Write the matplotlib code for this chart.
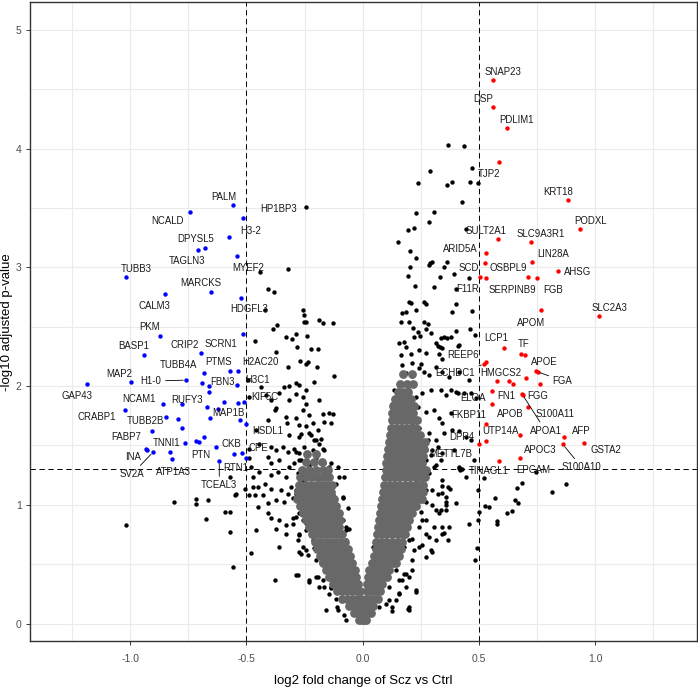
import numpy as np
import matplotlib
matplotlib.use("Agg")
import matplotlib.pyplot as plt

plt.rcParams['font.family'] = ['Liberation Sans', 'DejaVu Sans']

# ---------------------------------------------------------------
# data: log2 fold change (fc) and -log10 adjusted p-value (p)
# ---------------------------------------------------------------

# down-regulated, labelled (blue)
blue_labeled = [
    ("PALM", -0.558, 3.524), ("HP1BP3", -0.514, 3.415), ("NCALD", -0.741, 3.463),
    ("H3-2", -0.577, 3.257), ("DPYSL5", -0.677, 3.162), ("TAGLN3", -0.710, 3.147),
    ("MYEF2", -0.541, 3.094), ("TUBB3", -1.018, 2.920), ("MARCKS", -0.654, 2.794),
    ("CALM3", -0.849, 2.772), ("HDGFL3", -0.522, 2.741), ("PKM", -0.870, 2.418),
    ("SCRN1", -0.514, 2.435), ("BASP1", -0.942, 2.263), ("CRIP2", -0.694, 2.275),
    ("TUBB4A", -0.681, 2.111), ("PTMS", -0.570, 2.126), ("MAP2", -0.997, 2.030),
    ("GAP43", -1.185, 2.019), ("H1-0", -0.760, 2.050), ("FBN3", -0.661, 1.999),
    ("NCAM1", -0.857, 1.845), ("RUFY3", -0.779, 1.853), ("CRABP1", -1.022, 1.797),
    ("MAP1B", -0.621, 1.805), ("TUBB2B", -0.906, 1.623), ("FABP7", -0.930, 1.470),
    ("INA", -0.927, 1.460), ("SV2A", -0.902, 1.443), ("TNNI1", -0.829, 1.446),
    ("ATP1A3", -0.821, 1.387), ("PTN", -0.633, 1.488), ("CKB", -0.552, 1.426),
    ("TCEAL3", -0.617, 1.365), ("RTN1", -0.504, 1.398),
]
blue_other = [
    (-0.535, 2.126), (-0.690, 2.022), (-0.541, 2.010), (-0.661, 1.946), (-0.598, 1.867),
    (-0.535, 1.858), (-0.512, 1.867), (-0.670, 1.820), (-0.658, 1.732), (-0.844, 1.741),
    (-0.794, 1.719), (-0.779, 1.645), (-0.530, 1.713), (-0.504, 1.680), (-0.764, 1.521),
    (-0.718, 1.538), (-0.706, 1.530), (-0.684, 1.567), (-0.518, 1.437),
]

# up-regulated, labelled (red)
red_labeled = [
    ("SNAP23", 0.559, 4.577), ("DSP", 0.559, 4.350), ("PDLIM1", 0.619, 4.170),
    ("KRT18", 0.882, 3.564), ("PODXL", 0.935, 3.324), ("SULT2A1", 0.582, 3.235),
    ("SLC9A3R1", 0.724, 3.210), ("ARID5A", 0.529, 3.117), ("LIN28A", 0.728, 3.046),
    ("OSBPL9", 0.526, 3.039), ("AHSG", 0.839, 2.968), ("SCD", 0.503, 2.915),
    ("SERPINB9", 0.531, 2.911), ("FGB", 0.751, 2.912), ("SLC2A3", 1.015, 2.589),
    ("APOM", 0.768, 2.639), ("LCP1", 0.608, 2.322), ("TF", 0.682, 2.269),
    ("REEP6", 0.529, 2.204), ("ECHDC1", 0.522, 2.184), ("APOE", 0.746, 2.128),
    ("FGA", 0.752, 2.120), ("HMGCS2", 0.579, 2.039), ("FN1", 0.558, 1.960),
    ("FGG", 0.684, 1.932), ("APOA1", 0.688, 1.925), ("S100A11", 0.712, 1.820),
    ("APOB", 0.558, 1.845), ("UTP14A", 0.532, 1.679), ("AFP", 0.867, 1.570),
    ("GSTA2", 0.951, 1.522), ("S100A10", 0.861, 1.508), ("APOC3", 0.676, 1.395),
    ("DPP4", 0.502, 1.513),
]
red_other = [
    (0.586, 3.886), (0.711, 2.920), (0.697, 2.260), (0.703, 2.064), (0.762, 2.019),
    (0.630, 2.041), (0.646, 2.019), (0.676, 1.586), (0.532, 1.538), (0.586, 1.370),
]

# labelled proteins that miss one of the cut-offs (black)
black_labeled = [
    ("TJP2", 0.496, 3.712), ("F11R", 0.400, 2.814), ("ELOA", 0.400, 1.951),
    ("FKBP11", 0.379, 1.774), ("METTL7B", 0.479, 1.376), ("TINAGL1", 0.522, 1.222),
    ("EPCAM", 0.744, 1.272), ("H2AC20", -0.465, 2.378), ("H3C1", -0.495, 2.055),
    ("KIF5C", -0.487, 1.904), ("HSDL1", -0.458, 1.629), ("CPE", -0.487, 1.474),
]

black_upper = [
    (-0.246, 3.510), (-0.322, 2.985), (-0.441, 2.962), (-0.409, 2.819), (-0.381, 2.794),
    (-0.422, 2.639), (-0.258, 2.637), (-0.254, 2.600), (-0.254, 2.541), (-0.242, 2.541),
    (-0.186, 2.553), (-0.172, 2.532), (-0.126, 2.532), (-0.367, 2.513), (-0.385, 2.479),
    (-0.332, 2.409), (-0.306, 2.393), (-0.286, 2.435), (-0.238, 2.418),
    (-0.284, 2.330), (-0.221, 2.313), (-0.194, 2.308), (-0.372, 2.288), (-0.322, 2.162),
    (-0.268, 2.213), (-0.246, 2.185), (-0.236, 2.205), (-0.198, 2.162), (-0.122, 2.083),
    (0.367, 4.027), (0.435, 4.019), (0.472, 3.833), (0.290, 3.813), (0.236, 3.712),
    (0.362, 3.693), (0.382, 3.720), (0.462, 3.720), (0.426, 3.547), (0.229, 3.454),
    (0.307, 3.463), (0.286, 3.378), (0.193, 3.313), (0.221, 3.328), (0.443, 3.322),
    (0.153, 3.215), (0.203, 3.134), (0.231, 3.075), (0.290, 3.033), (0.300, 3.041),
    (0.286, 3.019), (0.362, 3.046), (0.350, 3.004), (0.203, 2.999), (0.193, 2.928),
    (0.332, 2.920), (0.393, 2.943), (0.455, 2.906), (0.223, 2.842), (0.307, 2.836),
    (0.197, 2.709), (0.207, 2.701), (0.264, 2.709), (0.272, 2.690), (0.403, 2.690),
    (0.167, 2.612), (0.186, 2.620), (0.231, 2.639), (0.386, 2.625), (0.472, 2.631),
    (0.166, 2.536), (0.200, 2.541), (0.218, 2.485), (0.236, 2.457), (0.264, 2.536),
    (0.282, 2.522), (0.272, 2.477), (0.293, 2.448), (0.350, 2.415), (0.364, 2.401),
    (0.403, 2.465), (0.461, 2.477), (0.483, 2.429), (0.157, 2.364), (0.176, 2.372),
    (0.186, 2.330), (0.221, 2.409), (0.247, 2.420), (0.317, 2.364), (0.333, 2.330),
    (0.412, 2.345), (0.336, 2.401), (0.379, 2.415), (0.343, 2.317),
]

black_left = [
    (-0.337, 1.988), (-0.315, 2.002), (-0.287, 2.027), (-0.272, 2.008), (-0.246, 1.966),
    (-0.208, 2.036), (-0.437, 1.994), (-0.415, 1.924), (-0.394, 1.882), (-0.379, 1.797),
    (-0.358, 1.938), (-0.315, 1.882), (-0.287, 1.932), (-0.258, 1.910), (-0.244, 1.853),
    (-0.186, 1.882), (-0.372, 1.811), (-0.330, 1.741), (-0.287, 1.727), (-0.258, 1.797),
    (-0.229, 1.755), (-0.169, 1.763), (-0.143, 1.775), (-0.126, 1.763), (-0.408, 1.713),
    (-0.327, 1.685), (-0.272, 1.671), (-0.244, 1.662), (-0.215, 1.685), (-0.193, 1.629),
    (-0.165, 1.699), (-0.136, 1.685), (-0.315, 1.587), (-0.272, 1.572), (-0.229, 1.601),
    (-0.200, 1.544), (-0.179, 1.558), (-0.444, 1.516), (-0.394, 1.488), (-0.372, 1.460),
    (-0.344, 1.488), (-0.322, 1.446), (-0.294, 1.474), (-0.272, 1.432), (-0.244, 1.418),
    (-0.215, 1.460), (-0.165, 1.460), (-0.487, 1.390), (-0.408, 1.404), (-0.394, 1.348),
    (-0.358, 1.376), (-0.315, 1.320), (-0.294, 1.348), (-0.272, 1.376), (-0.229, 1.334),
    (-0.208, 1.292), (-0.165, 1.348), (-0.143, 1.320), (-0.108, 1.320), (-0.479, 1.320),
    (-0.444, 1.278), (-0.394, 1.250), (-0.365, 1.278), (-0.330, 1.235), (-0.279, 1.264),
    (-0.258, 1.207), (-0.229, 1.250), (-0.186, 1.221), (-0.115, 1.179), (-0.079, 1.235),
    (-0.451, 1.151), (-0.422, 1.179), (-0.394, 1.137), (-0.351, 1.123), (-0.308, 1.151),
    (-0.287, 1.095), (-0.244, 1.151), (-0.200, 1.137), (-0.158, 1.165), (-0.487, 1.081),
    (-0.430, 1.081), (-0.408, 1.011), (-0.372, 1.039), (-0.337, 1.025), (-0.322, 1.095),
    (-0.272, 0.997), (-0.244, 1.067), (-0.215, 1.025), (-0.186, 1.067), (-0.129, 1.081),
    (-0.086, 1.067), (-0.408, 0.927), (-0.394, 0.885), (-0.358, 0.871), (-0.330, 0.829),
    (-0.301, 0.885), (-0.272, 0.927), (-0.244, 0.843), (-0.208, 0.871), (-0.172, 0.913),
    (-0.129, 0.899), (-0.086, 0.871), (-0.072, 0.815), (-0.372, 0.800), (-0.330, 0.758),
    (-0.272, 0.744), (-0.244, 0.786), (-0.215, 0.702), (-0.186, 0.758), (-0.158, 0.674),
    (-0.129, 0.758), (-0.072, 0.702), (-0.358, 0.646), (-0.272, 0.604), (-0.244, 0.618),
    (-0.208, 0.632), (-0.200, 0.534), (-0.172, 0.590), (-0.143, 0.590), (-0.479, 0.590),
    (-0.379, 0.365), (-0.279, 0.407), (-0.229, 0.365), (-0.193, 0.393), (-0.165, 0.309),
    (-0.136, 0.295), (-0.558, 0.478),
    (-0.810, 1.024), (-0.715, 1.045), (-0.717, 1.003), (-0.666, 1.039), (-0.674, 0.879),
    (-0.593, 0.940), (-0.570, 0.940), (-0.570, 0.767), (-1.019, 0.826), (-0.570, 1.235),
    (-0.551, 1.081), (-0.544, 1.089), (-0.505, 1.137), (-0.470, 1.235), (-0.470, 1.151),
    (-0.462, 1.081), (-0.452, 0.982), (-0.460, 0.786),
    (-0.265, 1.600), (-0.222, 1.586), (-0.208, 1.544), (-0.251, 1.488), (-0.186, 1.516),
    (-0.172, 1.474), (-0.286, 1.446), (-0.265, 1.376), (-0.200, 1.390), (-0.229, 1.320),
    (-0.258, 1.278), (-0.136, 1.348), (-0.100, 1.235), (-0.286, 1.123), (-0.258, 1.165),
    (-0.301, 1.053), (-0.251, 1.025), (-0.086, 1.053), (-0.065, 0.969), (-0.286, 0.898),
    (-0.301, 0.842), (-0.258, 0.870), (-0.236, 0.814), (-0.272, 0.758), (-0.279, 0.702),
    (-0.258, 0.645), (-0.265, 0.589), (-0.236, 0.575), (-0.072, 0.786), (-0.057, 0.800),
    (-0.179, 0.519), (-0.079, 0.575), (-0.050, 0.505), (-0.286, 0.407), (-0.229, 0.350),
    (-0.200, 0.393), (-0.172, 0.365), (-0.186, 0.309), (-0.136, 0.309), (-0.143, 0.252),
    (-0.115, 0.210), (-0.108, 0.112), (-0.079, 0.070), (-0.158, 0.112), (-0.065, 0.449),
    (-0.110, 0.140), (-0.070, 0.030),
]

black_right = [
    (0.164, 2.260), (0.207, 2.269), (0.243, 2.303), (0.272, 2.280), (0.322, 2.336),
    (0.329, 2.274), (0.408, 2.336), (0.343, 2.232), (0.171, 2.176), (0.214, 2.190),
    (0.250, 2.184), (0.243, 2.148), (0.264, 2.120), (0.186, 2.106), (0.214, 2.083),
    (0.286, 2.092), (0.315, 2.162), (0.343, 2.120), (0.372, 2.078), (0.415, 2.120),
    (0.458, 2.050), (0.136, 1.966), (0.164, 1.938), (0.200, 1.966), (0.229, 1.910),
    (0.257, 1.938), (0.293, 1.966), (0.336, 1.966), (0.357, 1.924), (0.379, 1.966),
    (0.408, 1.938), (0.436, 1.938), (0.465, 1.938), (0.486, 1.896), (0.128, 1.853),
    (0.157, 1.825), (0.193, 1.797), (0.236, 1.825), (0.272, 1.783), (0.307, 1.797),
    (0.329, 1.727), (0.343, 1.685), (0.128, 1.713), (0.143, 1.657), (0.171, 1.601),
    (0.214, 1.685), (0.243, 1.643), (0.286, 1.601), (0.315, 1.544), (0.350, 1.601),
    (0.386, 1.629), (0.415, 1.623), (0.443, 1.572), (0.465, 1.544), (0.121, 1.516),
    (0.157, 1.460), (0.200, 1.488), (0.236, 1.432), (0.272, 1.460), (0.293, 1.418),
    (0.322, 1.488), (0.343, 1.432), (0.393, 1.460), (0.272, 1.376), (0.315, 1.334),
    (0.336, 1.376), (0.415, 1.320), (0.429, 1.298), (0.286, 1.264), (0.343, 1.207),
    (0.365, 1.151), (0.322, 1.095), (0.357, 1.062), (0.400, 1.011), (0.300, 0.997),
    (0.329, 0.927), (0.372, 0.815), (0.343, 0.758), (0.315, 0.702), (0.293, 0.618),
    (0.243, 0.646), (0.272, 0.562), (0.214, 0.534), (0.186, 0.421), (0.229, 0.281),
    (0.200, 0.140), (0.157, 0.253), (0.128, 0.140), (0.186, 0.309), (0.114, 0.197),
    (0.171, 0.365), (0.214, 0.450), (0.157, 0.590), (0.200, 0.702), (0.243, 0.815),
    (0.272, 0.871), (0.214, 0.927), (0.243, 1.039), (0.272, 1.123), (0.229, 1.207),
    (0.357, 0.997), (0.365, 0.702),
    (0.107, 1.460), (0.143, 1.488), (0.171, 1.530), (0.157, 1.600), (0.114, 1.572),
    (0.186, 1.460), (0.257, 1.516), (0.279, 1.544), (0.300, 1.460), (0.243, 1.362),
    (0.272, 1.292), (0.308, 1.320), (0.229, 1.235), (0.250, 1.165), (0.300, 1.123),
    (0.272, 1.025), (0.315, 0.954), (0.250, 0.940), (0.257, 0.870), (0.308, 0.814),
    (0.272, 0.758), (0.286, 0.730), (0.214, 0.716), (0.179, 0.645), (0.222, 0.617),
    (0.257, 0.659), (0.300, 0.603), (0.143, 0.449), (0.179, 0.421), (0.200, 0.393),
    (0.157, 0.365), (0.114, 0.309), (0.157, 0.252), (0.143, 0.196), (0.100, 0.168),
    (0.071, 0.140), (0.193, 0.126), (0.229, 0.266), (0.043, 0.645), (0.050, 0.533),
    (0.127, 0.104), (0.200, 0.110),
    (0.686, 1.185), (0.662, 1.142), (0.568, 1.061), (0.655, 1.039), (0.667, 1.019),
    (0.622, 0.932), (0.641, 0.949), (0.525, 0.991), (0.542, 0.982), (0.815, 1.104),
    (0.873, 1.171), (0.576, 0.862), (0.576, 0.834), (0.497, 1.123), (0.500, 0.940),
    (0.496, 0.870), (0.458, 0.842), (0.340, 1.157), (0.340, 1.100), (0.377, 1.129),
    (0.360, 1.024), (0.336, 0.955), (0.357, 0.955), (0.343, 0.814), (0.350, 0.763),
    (0.493, 0.632), (0.482, 0.533), (0.418, 1.292), (0.412, 1.306), (0.443, 1.235),
]

# the dense, overlapping core of the cloud (renders grey): (p, [fc, ...]) rows
core_left = [
    (0.03, [-0.018, -0.004]),
    (0.09, [-0.036, -0.018, -0.004]),
    (0.15, [-0.060, -0.040, -0.022, -0.007]),
    (0.21, [-0.090, -0.068, -0.046, -0.026, -0.009]),
    (0.27, [-0.112, -0.090, -0.068, -0.046, -0.026, -0.013]),
    (0.33, [-0.130, -0.108, -0.086, -0.064, -0.042, -0.022]),
    (0.39, [-0.147, -0.125, -0.103, -0.081, -0.059, -0.038, -0.027]),
    (0.45, [-0.158, -0.136, -0.114, -0.092, -0.070, -0.050, -0.035]),
    (0.51, [-0.170, -0.148, -0.126, -0.104, -0.082, -0.060, -0.045]),
    (0.57, [-0.184, -0.162, -0.140, -0.118, -0.096, -0.074, -0.053]),
    (0.63, [-0.195, -0.173, -0.151, -0.129, -0.107, -0.085, -0.062]),
    (0.69, [-0.207, -0.185, -0.163, -0.141, -0.119, -0.097, -0.075]),
    (0.75, [-0.220, -0.198, -0.176, -0.154, -0.132, -0.110, -0.088]),
    (0.81, [-0.232, -0.210, -0.188, -0.166, -0.144, -0.122, -0.100]),
    (0.87, [-0.245, -0.223, -0.200, -0.178, -0.156, -0.134, -0.112, -0.098]),
    (0.93, [-0.256, -0.234, -0.210, -0.190, -0.166, -0.144, -0.122, -0.104]),
    (0.99, [-0.268, -0.246, -0.224, -0.200, -0.178, -0.155, -0.133, -0.114]),
    (1.05, [-0.282, -0.260, -0.238, -0.214, -0.190, -0.168, -0.146, -0.124]),
    (1.11, [-0.280, -0.256, -0.232, -0.210, -0.186, -0.162, -0.138]),
    (1.17, [-0.276, -0.250, -0.226, -0.200, -0.176, -0.152, -0.134]),
    (1.23, [-0.270, -0.244, -0.218, -0.192, -0.166, -0.145]),
    (1.29, [-0.260, -0.232, -0.200, -0.170, -0.150]),
    (1.36, [-0.245, -0.210, -0.175]),
    (1.43, [-0.240, -0.200]),
]
core_right = [
    (0.03, [0.004, 0.016]),
    (0.09, [0.008, 0.022, 0.035]),
    (0.15, [0.012, 0.028, 0.046]),
    (0.21, [0.014, 0.032, 0.050, 0.064]),
    (0.27, [0.017, 0.036, 0.056, 0.076]),
    (0.33, [0.020, 0.040, 0.062, 0.085]),
    (0.39, [0.024, 0.046, 0.068, 0.090, 0.105]),
    (0.45, [0.028, 0.050, 0.072, 0.094, 0.115]),
    (0.51, [0.042, 0.064, 0.086, 0.108, 0.130, 0.142]),
    (0.57, [0.048, 0.070, 0.092, 0.114, 0.136, 0.155]),
    (0.63, [0.055, 0.077, 0.099, 0.121, 0.143, 0.165]),
    (0.69, [0.058, 0.080, 0.102, 0.124, 0.146, 0.168]),
    (0.75, [0.062, 0.084, 0.106, 0.128, 0.150, 0.172, 0.182]),
    (0.81, [0.066, 0.088, 0.110, 0.132, 0.154, 0.176, 0.190]),
    (0.87, [0.070, 0.092, 0.114, 0.136, 0.158, 0.180, 0.200]),
    (0.93, [0.076, 0.098, 0.120, 0.142, 0.164, 0.186, 0.210]),
    (0.99, [0.080, 0.102, 0.124, 0.146, 0.168, 0.190, 0.212, 0.228]),
    (1.05, [0.084, 0.106, 0.128, 0.150, 0.172, 0.194, 0.216, 0.240, 0.255]),
    (1.11, [0.088, 0.110, 0.132, 0.154, 0.176, 0.198, 0.220, 0.242, 0.258]),
    (1.17, [0.092, 0.114, 0.136, 0.158, 0.180, 0.202, 0.224, 0.246, 0.260]),
    (1.23, [0.095, 0.117, 0.139, 0.161, 0.183, 0.205, 0.227, 0.250, 0.266]),
    (1.29, [0.098, 0.120, 0.142, 0.164, 0.186, 0.208, 0.230, 0.252, 0.270]),
    (1.35, [0.100, 0.122, 0.144, 0.166, 0.188, 0.210, 0.232, 0.254]),
    (1.41, [0.104, 0.126, 0.148, 0.170, 0.192, 0.214, 0.236, 0.258]),
    (1.47, [0.108, 0.130, 0.152, 0.174, 0.196, 0.218, 0.240, 0.262]),
    (1.53, [0.112, 0.134, 0.156, 0.178, 0.200, 0.222, 0.244, 0.266]),
    (1.59, [0.116, 0.138, 0.160, 0.182, 0.204, 0.226, 0.248]),
    (1.65, [0.120, 0.142, 0.164, 0.186, 0.208, 0.230]),
    (1.71, [0.124, 0.146, 0.168, 0.190, 0.212, 0.232]),
    (1.77, [0.128, 0.150, 0.172, 0.194, 0.216]),
    (1.83, [0.132, 0.154, 0.176, 0.198, 0.222]),
    (1.89, [0.140, 0.162, 0.184, 0.206]),
    (1.95, [0.150, 0.172, 0.196]),
    (2.02, [0.162, 0.190, 0.215]),
    (2.10, [0.175, 0.210]),
]

FC_CUT = 0.5
P_CUT = 1.3

# label placement (pixels from the point, +dy = downwards)
LABEL_POS = {
    "PALM": (-9, -8), "HP1BP3": (35, -9), "NCALD": (-23, 9), "H3-2": (22, -6),
    "DPYSL5": (-10, -9), "TAGLN3": (-11, 11), "MYEF2": (11, 12), "TUBB3": (10, -8),
    "MARCKS": (-10, -9), "CALM3": (-11, 12), "HDGFL3": (8, 11), "PKM": (-11, -9),
    "SCRN1": (-22, 10), "BASP1": (-10, -9), "CRIP2": (-17, -8), "TUBB4A": (-26, -8),
    "PTMS": (-12, -9), "MAP2": (-12, -8), "GAP43": (-10, 12), "H1-0": (-35, 1),
    "FBN3": (13, -4), "NCAM1": (-24, -5), "RUFY3": (5, -4), "CRABP1": (-28, 7),
    "MAP1B": (10, 4), "TUBB2B": (-7, -10), "FABP7": (-20, -12), "INA": (-14, 7),
    "SV2A": (-21, 22), "TNNI1": (-3, -9), "ATP1A3": (2, 13), "PTN": (-15, 8),
    "CKB": (-3, -10), "TCEAL3": (0, 24), "RTN1": (-10, 10),
    "SNAP23": (10, -8), "DSP": (-10, -8), "PDLIM1": (10, -8), "KRT18": (-10, -8),
    "PODXL": (10, -8), "SULT2A1": (-12, -8), "SLC9A3R1": (10, -8), "ARID5A": (-25, -4),
    "LIN28A": (21, -8), "OSBPL9": (23, 5), "AHSG": (20, 1), "SCD": (-11, -9),
    "SERPINB9": (26, 12), "FGB": (16, 12), "SLC2A3": (11, -8), "APOM": (-10, 13),
    "LCP1": (-8, -10), "TF": (2, -10), "REEP6": (-23, -7), "ECHDC1": (-29, 9),
    "APOE": (8, -9), "FGA": (25, 9), "HMGCS2": (3, -8), "FN1": (14, 5),
    "FGG": (16, 2), "APOA1": (23, 36), "S100A11": (27, 7), "APOB": (18, 10),
    "UTP14A": (14, 7), "AFP": (17, -6), "GSTA2": (22, 7), "S100A10": (19, 23),
    "APOC3": (20, -8), "DPP4": (-18, -7),
    "TJP2": (11, -9), "F11R": (12, 0), "ELOA": (17, 6), "FKBP11": (18, 2),
    "METTL7B": (-23, -6), "TINAGL1": (5, -7), "EPCAM": (-2, -2), "H2AC20": (6, 21),
    "H3C1": (10, 0), "KIF5C": (15, 0), "HSDL1": (12, 1), "CPE": (9, -1),
}
WITH_SEGMENT = {"H1-0", "SV2A", "TCEAL3", "ECHDC1", "FGA", "APOA1", "S100A10"}


def main():
    fig = plt.figure(figsize=(6.98, 6.88), dpi=100)
    ax = fig.add_axes([0.043, 0.068, 0.955, 0.929])

    # background cloud
    bk = np.array(black_upper + black_left + black_right +
                  [(x, y) for _, x, y in black_labeled])
    ax.scatter(bk[:, 0], bk[:, 1], s=10, color='black', linewidths=0, zorder=3)

    core = [(x, y) for y, xs in core_left + core_right for x in xs]
    core = np.array(core)
    ax.scatter(core[:, 0], core[:, 1], s=40, color='#686868', linewidths=0, zorder=4)

    # significant proteins
    bl = np.array([(x, y) for _, x, y in blue_labeled] + blue_other)
    rd = np.array([(x, y) for _, x, y in red_labeled] + red_other)
    ax.scatter(bl[:, 0], bl[:, 1], s=10, color='#0000ff', linewidths=0, zorder=5)
    ax.scatter(rd[:, 0], rd[:, 1], s=10, color='#ff0000', linewidths=0, zorder=5)

    # thresholds
    for xv in (-FC_CUT, FC_CUT):
        ax.axvline(xv, color='black', lw=0.7, linestyle=(0, (5.5, 3.7)), zorder=2)
    ax.axhline(P_CUT, color='black', lw=0.7, linestyle=(0, (5.5, 3.7)), zorder=2)

    # labels
    for name, x, y in blue_labeled + red_labeled + black_labeled:
        dx, dy = LABEL_POS[name]
        arrow = None
        if name in WITH_SEGMENT:
            arrow = dict(arrowstyle='-', color='black', lw=0.6, shrinkA=1, shrinkB=2)
        ax.annotate(name, (x, y), xytext=(dx, -dy), textcoords='offset pixels',
                    ha='center', va='center', fontsize=6.9, color='#1a1a1a',
                    arrowprops=arrow, zorder=6)

    ax.set_xlim(-1.431, 1.436)
    ax.set_ylim(-0.149, 5.234)
    ax.set_xticks([-1.0, -0.5, 0.0, 0.5, 1.0])
    ax.set_xticklabels(['-1.0', '-0.5', '0.0', '0.5', '1.0'])
    ax.set_yticks([0, 1, 2, 3, 4, 5])
    ax.set_xticks(np.arange(-1.25, 1.5, 0.5), minor=True)
    ax.set_yticks(np.arange(0.5, 5.5, 1.0), minor=True)
    ax.grid(True, which='both', color='#ebebeb', lw=0.8, zorder=0)
    ax.set_axisbelow(True)
    ax.tick_params(which='major', length=3, width=0.7, color='#333333',
                   labelsize=7.5, labelcolor='#4d4d4d')
    ax.tick_params(axis='x', which='major', pad=6)
    ax.tick_params(axis='y', which='major', pad=3)
    ax.tick_params(which='minor', length=0)
    for sp in ax.spines.values():
        sp.set_color('#333333')
        sp.set_linewidth(1.0)

    ax.set_xlabel('log2 fold change of Scz vs Ctrl', fontsize=9.5, labelpad=8)
    ax.set_ylabel('-log10 adjusted p-value', fontsize=9.5)
    ax.yaxis.set_label_coords(-0.026, 0.5)

    fig.savefig('out.png', dpi=100)


if __name__ == '__main__':
    main()
